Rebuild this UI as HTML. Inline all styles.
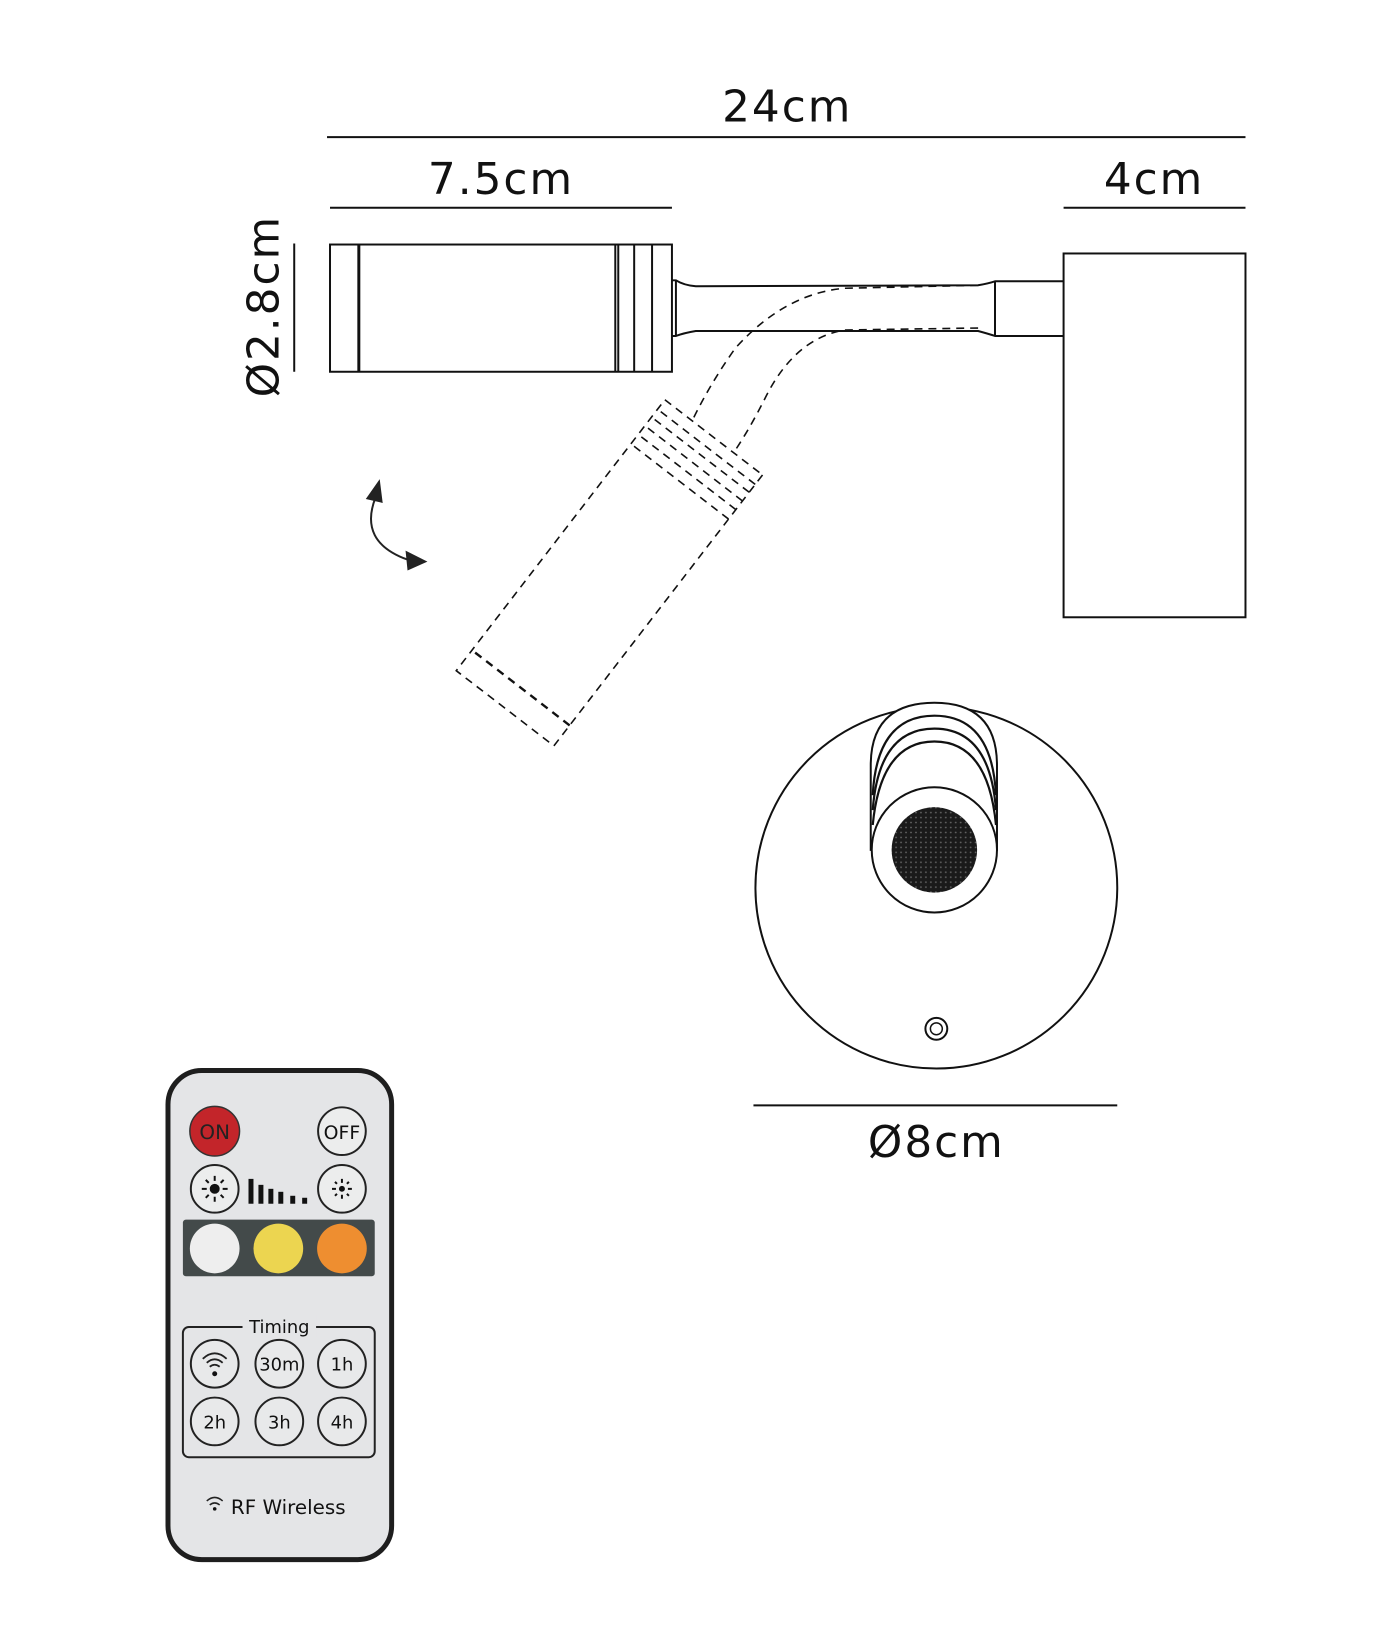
<!DOCTYPE html>
<html><head><meta charset="utf-8"><style>
html,body{margin:0;padding:0;background:#fff;}
svg{display:block;}
text{font-family:"DejaVu Sans","Liberation Sans",sans-serif;fill:#111;}
</style></head><body>
<svg width="1400" height="1647" viewBox="0 0 1400 1647" xmlns="http://www.w3.org/2000/svg">
<defs>
<pattern id="mesh" width="5" height="5" patternUnits="userSpaceOnUse">
<rect width="5" height="5" fill="#1a1a1a"/><circle cx="2.5" cy="2.5" r="0.9" fill="#666"/>
</pattern>
</defs>
<g transform="scale(0.994)">
<text x="792" y="122" font-size="44" text-anchor="middle" letter-spacing="2">24cm</text>
<line x1="329" y1="138" x2="1253" y2="138" stroke="#111" stroke-width="2"/>
<text x="504" y="195" font-size="44" text-anchor="middle" letter-spacing="2">7.5cm</text>
<line x1="332" y1="209" x2="676" y2="209" stroke="#111" stroke-width="2"/>
<text x="1161" y="195" font-size="44" text-anchor="middle" letter-spacing="2">4cm</text>
<line x1="1070" y1="209" x2="1253" y2="209" stroke="#111" stroke-width="2"/>
<text x="0" y="0" font-size="44" text-anchor="middle" letter-spacing="2" transform="translate(280,308) rotate(-90)">Ø2.8cm</text>
<line x1="296" y1="245" x2="296" y2="374" stroke="#111" stroke-width="2"/>

<g fill="none" stroke="#111" stroke-width="2">
<rect x="332" y="246" width="344" height="128"/>
<line x1="361" y1="246" x2="361" y2="374" stroke-width="3"/>
<line x1="619" y1="246" x2="619" y2="374"/>
<line x1="622" y1="246" x2="622" y2="374"/>
<line x1="638" y1="246" x2="638" y2="374"/>
<line x1="656" y1="246" x2="656" y2="374"/>
<path d="M676 282 L680 282 Q688 287 700 288 L984 287 Q995 285 1001 283 L1070 283 M676 338 L680 338 Q688 335 700 333 L984 333 Q995 336 1001 338 L1070 338"/>
<line x1="680" y1="282" x2="680" y2="338"/>
<line x1="1001" y1="283" x2="1001" y2="338"/>
<rect x="1070" y="255" width="183" height="366"/>
</g>
<g fill="none" stroke="#111" stroke-width="1.6" stroke-dasharray="8,6">
<path d="M984 287 L850 290 Q790 295 740 350 Q715 385 697 422"/>
<path d="M984 330 L850 332 Q800 340 770 400 Q755 430 739 454"/>
</g>
<g transform="translate(718,440) rotate(127.6)" fill="none" stroke="#111" stroke-width="1.6" stroke-dasharray="8,6">
<rect x="0" y="-62" width="344" height="124"/>
<line x1="12" y1="-62" x2="12" y2="62"/>
<line x1="22" y1="-62" x2="22" y2="62"/>
<line x1="33" y1="-62" x2="33" y2="62"/>
<line x1="44" y1="-62" x2="44" y2="62"/>
<line x1="56" y1="-62" x2="56" y2="62"/>
<line x1="318" y1="-62" x2="318" y2="62" stroke-width="2.4"/>
</g>
<path d="M378 500 Q360 545 410 563" fill="none" stroke="#222" stroke-width="2"/>
<polygon points="382,482 368,502 385,506" fill="#222"/>
<polygon points="430,565 408,554 410,574" fill="#222"/>

<g transform="translate(4,0)">
<circle cx="938" cy="893" r="182" fill="none" stroke="#111" stroke-width="2"/>
<path d="M872 855 L872 770 Q872 707 936 707 Q999 707 999 770 L999 855 Z" fill="#fff" stroke="#111" stroke-width="2"/>
<g fill="none" stroke="#111" stroke-width="2.2">
<path d="M874 800 Q878 720 936 720 Q994 720 998 800"/>
<path d="M874 815 Q880 733 936 733 Q992 733 998 815"/>
<path d="M874 830 Q882 746 936 746 Q990 746 998 830"/>
</g>
<circle cx="936" cy="855" r="63" fill="#fff" stroke="#111" stroke-width="2"/>
<circle cx="936" cy="855" r="43" fill="url(#mesh)"/>
<circle cx="938" cy="1035" r="11" fill="none" stroke="#111" stroke-width="2"/>
<circle cx="938" cy="1035" r="6" fill="none" stroke="#111" stroke-width="1.5"/>
</g>
<line x1="758" y1="1112" x2="1124" y2="1112" stroke="#111" stroke-width="2"/>
<text x="942" y="1164" font-size="44" text-anchor="middle" letter-spacing="2">Ø8cm</text>

<rect x="169" y="1077" width="225" height="492" rx="34" fill="#e4e5e7" stroke="#1e1e1e" stroke-width="5"/>
<circle cx="216" cy="1138" r="25" fill="#c3252a" stroke="#333" stroke-width="1.5"/>
<text x="216" y="1146" font-size="20" text-anchor="middle" style="fill:#222">ON</text>
<circle cx="344" cy="1138" r="24" fill="#eceded" stroke="#222" stroke-width="2"/>
<text x="344" y="1146" font-size="19" text-anchor="middle">OFF</text>
<circle cx="216" cy="1196" r="24" fill="#eceded" stroke="#222" stroke-width="2"/>
<circle cx="216" cy="1196" r="5" fill="#111"/>
<circle cx="344" cy="1196" r="24" fill="#eceded" stroke="#222" stroke-width="2"/>
<circle cx="344" cy="1196" r="3" fill="#111"/>
<g stroke="#111" stroke-width="2">
<path d="M216 1183v5M216 1204v5M203 1196h5M224 1196h5M207 1187l3 3M225 1187l-3 3M207 1205l3-3M225 1205l-3-3"/>
<path d="M344 1186v4M344 1202v4M334 1196h4M350 1196h4M337 1189l2 2M351 1189l-2 2M337 1203l2-2M351 1203l-2-2"/>
</g>
<g fill="#111">
<rect x="250" y="1186" width="5" height="25"/><rect x="260" y="1192" width="5" height="19"/><rect x="270" y="1196" width="5" height="15"/><rect x="280" y="1199" width="5" height="12"/><rect x="292" y="1203" width="5" height="8"/><rect x="304" y="1205" width="5" height="6"/>
</g>
<rect x="184" y="1227" width="193" height="57" rx="3" fill="#434a4a"/>
<circle cx="216" cy="1256" r="25" fill="#eeeeee"/>
<circle cx="280" cy="1256" r="25" fill="#ecd550"/>
<circle cx="344" cy="1256" r="25" fill="#ee8e30"/>
<rect x="184" y="1335" width="193" height="131" rx="6" fill="none" stroke="#222" stroke-width="2"/>
<rect x="244" y="1322" width="74" height="24" fill="#e4e5e7"/>
<text x="281" y="1341" font-size="18" text-anchor="middle">Timing</text>
<g fill="#e8e9ea" stroke="#222" stroke-width="2">
<circle cx="216" cy="1372" r="24"/><circle cx="281" cy="1372" r="24"/><circle cx="344" cy="1372" r="24"/>
<circle cx="216" cy="1430" r="24"/><circle cx="281" cy="1430" r="24"/><circle cx="344" cy="1430" r="24"/>
</g>
<g fill="none" stroke="#222" stroke-width="1.8">
<path d="M204 1367 Q216 1356 228 1367 M208 1371 Q216 1364 224 1371 M211 1375 Q216 1371 221 1375"/>
</g>
<circle cx="216" cy="1382" r="2.5" fill="#111"/>
<text x="281" y="1379" font-size="18" text-anchor="middle">30m</text>
<text x="344" y="1379" font-size="18" text-anchor="middle">1h</text>
<text x="216" y="1437" font-size="18" text-anchor="middle">2h</text>
<text x="281" y="1437" font-size="18" text-anchor="middle">3h</text>
<text x="344" y="1437" font-size="18" text-anchor="middle">4h</text>
<g fill="none" stroke="#222" stroke-width="1.5">
<path d="M208 1510 Q216 1503 224 1510 M211 1514 Q216 1510 221 1514"/>
</g>
<circle cx="216" cy="1518" r="1.8" fill="#111"/>
<text x="290" y="1523" font-size="20" text-anchor="middle">RF Wireless</text>
</g>
</svg>
</body></html>
